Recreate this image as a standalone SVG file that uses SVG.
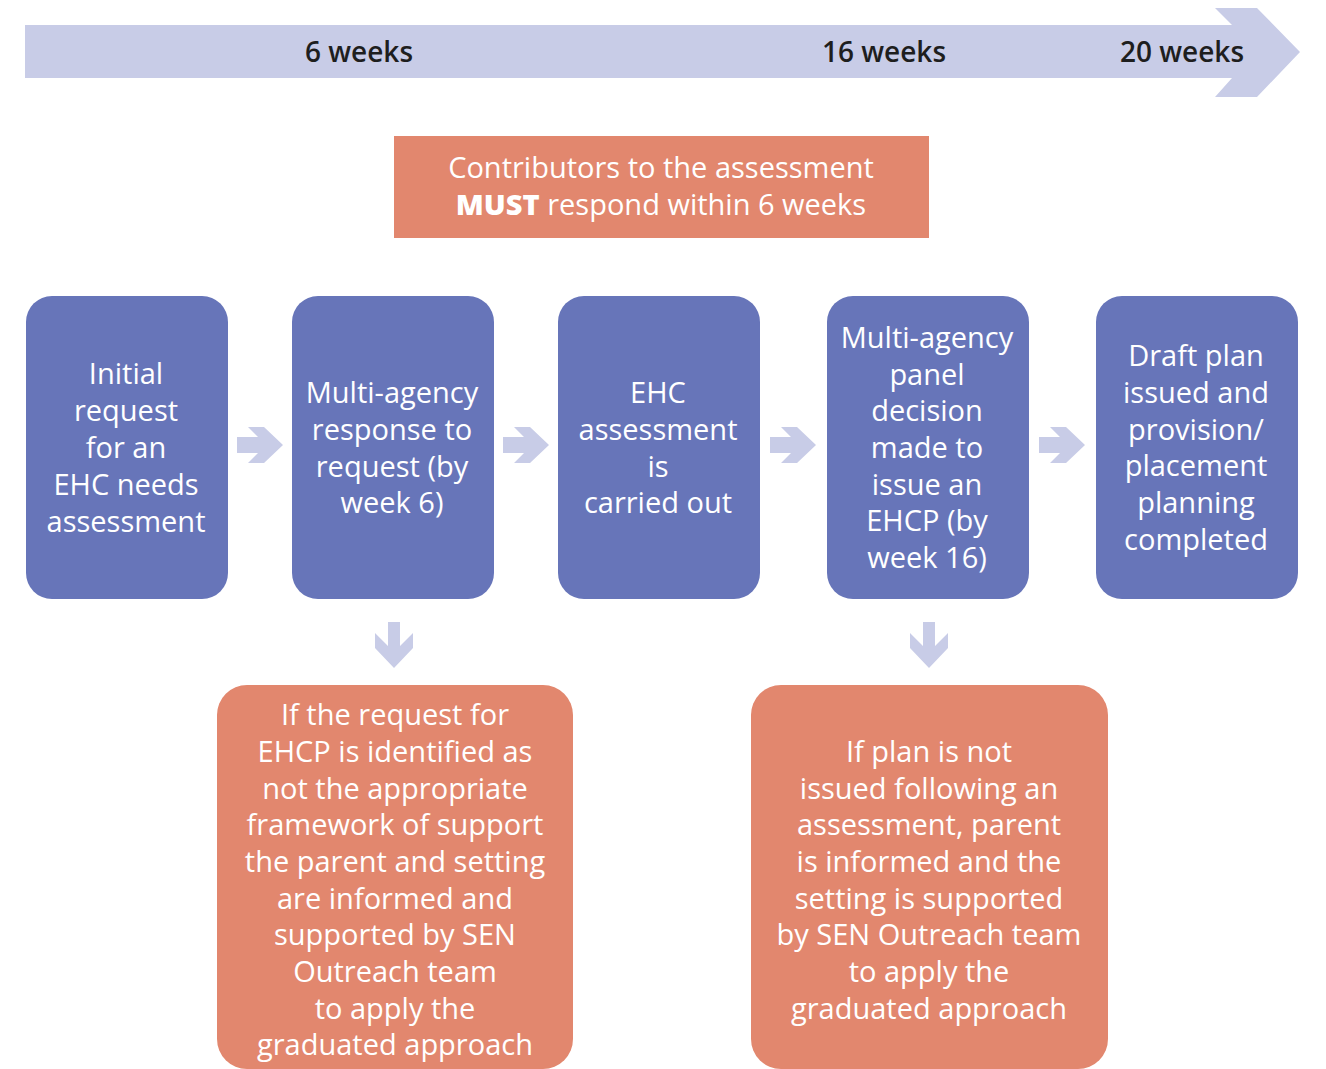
<svg xmlns="http://www.w3.org/2000/svg" width="1326" height="1069" viewBox="0 0 1326 1069">
<style>
.node{fill:#6775b9}
.warn{fill:#e2876e}
.arr{fill:#c8cce7}
text{font-family:"Open Sans","Noto Sans","Liberation Sans",sans-serif;font-size:29px;font-weight:500;text-anchor:middle}
.w{fill:#ffffff}
.d{fill:#1e1e1e;font-size:28px;font-weight:600}
</style>
<rect width="1326" height="1069" fill="#ffffff"/>
<g id="timeline">
<polygon class="arr" points="25,25 1232,25 1215,8 1257,8 1300,52 1257,97 1215,97 1232,78 25,78"/>
<text class="d" x="359" y="62">6 weeks</text>
<text class="d" x="884" y="62">16 weeks</text>
<text class="d" x="1182" y="62">20 weeks</text>
</g>
<g id="contributors">
<rect class="warn" x="394" y="136" width="535" height="102"/>
<text class="w" x="661" y="178">Contributors to the assessment</text>
<text class="w" x="661" y="215"><tspan font-weight="800">MUST</tspan> respond within 6 weeks</text>
</g>
<g id="connectors">
<polygon class="arr" points="237,437 258,437 248,427 264,427 283,445 264,463 248,463 258,453 237,453"/>
<polygon class="arr" points="503,437 524,437 514,427 530,427 549,445 530,463 514,463 524,453 503,453"/>
<polygon class="arr" points="770,437 791,437 781,427 797,427 816,445 797,463 781,463 791,453 770,453"/>
<polygon class="arr" points="1039,437 1060,437 1050,427 1066,427 1085,445 1066,463 1050,463 1060,453 1039,453"/>
<polygon class="arr" points="388,622 400,622 400,646 413,633 413,648 394,668 375,648 375,633 388,646"/>
<polygon class="arr" points="923,622 935,622 935,646 948,633 948,648 929,668 910,648 910,633 923,646"/>
</g>
<g id="node1">
<rect class="node" x="26" y="296" width="202" height="303" rx="26"/>
<text class="w" x="126" y="384">Initial</text>
<text class="w" x="126" y="421">request</text>
<text class="w" x="126" y="458">for an</text>
<text class="w" x="126" y="495">EHC needs</text>
<text class="w" x="126" y="532">assessment</text>
</g>
<g id="node2">
<rect class="node" x="292" y="296" width="202" height="303" rx="26"/>
<text class="w" x="392" y="403">Multi-agency</text>
<text class="w" x="392" y="440">response to</text>
<text class="w" x="392" y="477">request (by</text>
<text class="w" x="392" y="513">week 6)</text>
</g>
<g id="node3">
<rect class="node" x="558" y="296" width="202" height="303" rx="26"/>
<text class="w" x="658" y="403">EHC</text>
<text class="w" x="658" y="440">assessment</text>
<text class="w" x="658" y="477">is</text>
<text class="w" x="658" y="513">carried out</text>
</g>
<g id="node4">
<rect class="node" x="827" y="296" width="202" height="303" rx="26"/>
<text class="w" x="927" y="348">Multi-agency</text>
<text class="w" x="927" y="385">panel</text>
<text class="w" x="927" y="421">decision</text>
<text class="w" x="927" y="458">made to</text>
<text class="w" x="927" y="495">issue an</text>
<text class="w" x="927" y="531">EHCP (by</text>
<text class="w" x="927" y="568">week 16)</text>
</g>
<g id="node5">
<rect class="node" x="1096" y="296" width="202" height="303" rx="26"/>
<text class="w" x="1196" y="366">Draft plan</text>
<text class="w" x="1196" y="403">issued and</text>
<text class="w" x="1196" y="440">provision/</text>
<text class="w" x="1196" y="476">placement</text>
<text class="w" x="1196" y="513">planning</text>
<text class="w" x="1196" y="550">completed</text>
</g>
<g id="note1">
<rect class="warn" x="217" y="685" width="356" height="384" rx="30"/>
<text class="w" x="395" y="725">If the request for</text>
<text class="w" x="395" y="762">EHCP is identified as</text>
<text class="w" x="395" y="799">not the appropriate</text>
<text class="w" x="395" y="835">framework of support</text>
<text class="w" x="395" y="872">the parent and setting</text>
<text class="w" x="395" y="909">are informed and</text>
<text class="w" x="395" y="945">supported by SEN</text>
<text class="w" x="395" y="982">Outreach team</text>
<text class="w" x="395" y="1019">to apply the</text>
<text class="w" x="395" y="1055">graduated approach</text>
</g>
<g id="note2">
<rect class="warn" x="751" y="685" width="357" height="384" rx="30"/>
<text class="w" x="929" y="762">If plan is not</text>
<text class="w" x="929" y="799">issued following an</text>
<text class="w" x="929" y="835">assessment, parent</text>
<text class="w" x="929" y="872">is informed and the</text>
<text class="w" x="929" y="909">setting is supported</text>
<text class="w" x="929" y="945">by SEN Outreach team</text>
<text class="w" x="929" y="982">to apply the</text>
<text class="w" x="929" y="1019">graduated approach</text>
</g>
</svg>
